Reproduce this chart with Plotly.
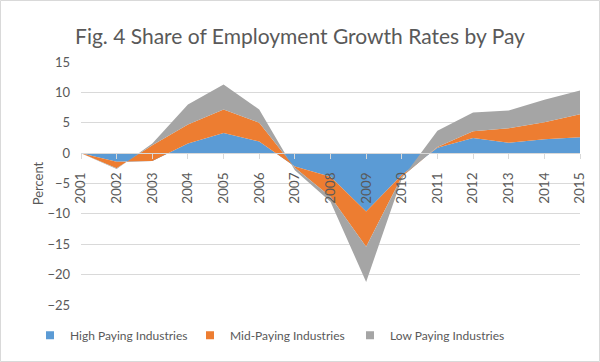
import plotly.graph_objects as go

years = [str(y) for y in range(2001, 2016)]
high_paying = [0, -1.4, -1.3, 1.6, 3.3, 1.9, -2.2, -3.9, -9.6, -3.6, 0.9, 2.5, 1.7, 2.3, 2.6]
mid_paying = [0, -1.1, 2.6, 3.1, 3.9, 3.1, -0.2, -3.3, -5.8, -0.3, 0.1, 1.1, 2.4, 2.8, 3.8]
low_paying = [0, -0.1, 0.3, 3.3, 4.1, 2.2, -0.4, -0.8, -5.8, -0.3, 2.7, 3.1, 2.9, 3.7, 3.9]
y_ticks = [-25, -20, -15, -10, -5, 0, 5, 10, 15]

series = [
    ("High Paying Industries", high_paying, "#5B9BD5"),
    ("Mid-Paying Industries", mid_paying, "#ED7D31"),
    ("Low Paying Industries", low_paying, "#A5A5A5"),
]

fig = go.Figure()
for name, vals, color in series:
    fig.add_trace(go.Scatter(
        x=years, y=vals, name=name, mode="lines", stackgroup="one",
        line=dict(width=0, color=color), fillcolor=color,
        legendgroup=name, showlegend=False, hoverinfo="skip",
    ))
# legend entries with square swatches
for name, vals, color in series:
    fig.add_trace(go.Scatter(
        x=[None], y=[None], name=name, mode="markers",
        marker=dict(symbol="square", size=8, color=color),
        legendgroup=name, showlegend=True,
    ))

font_family = "Lato, 'Open Sans', sans-serif"
ml, mr, mt, mb = 81, 20, 62, 57
W, H = 600, 362
pw, ph = W - ml - mr, H - mt - mb

fig.update_layout(
    width=W, height=H,
    margin=dict(l=ml, r=mr, t=mt, b=mb, autoexpand=False),
    paper_bgcolor="white", plot_bgcolor="white",
    font=dict(family=font_family, color="#595959", size=12),
    title=dict(text="Fig. 4 Share of Employment Growth Rates by Pay",
               x=0.5, xanchor="center", y=0.9, yanchor="middle",
               font=dict(size=21, color="#595959", family=font_family)),
    showlegend=True,
    legend=dict(orientation="h", x=(30 - ml) / pw, xanchor="left", y=-0.065, yanchor="top",
                font=dict(size=12, color="#595959"), traceorder="normal",
                itemwidth=30, entrywidthmode="pixels", entrywidth=115),
    xaxis=dict(type="category", range=[0, 14], anchor="free", position=0.625,
               automargin=False,
               showgrid=False, showline=True, linecolor="#D9D9D9", linewidth=1,
               ticks="outside", ticklen=5, tickcolor="#D9D9D9",
               tickangle=-90, tickfont=dict(size=13.5, color="#595959"),
               ticklabelstandoff=8,
               zeroline=False),
    yaxis=dict(range=[-25, 15], tickvals=y_ticks, showgrid=True, gridcolor="#D9D9D9",
               automargin=False,
               gridwidth=1, zeroline=False, showline=False, ticks="",
               tickfont=dict(size=13, color="#595959"), ticklabelstandoff=10,
               title=dict(text="Percent", font=dict(size=13, color="#595959"), standoff=0)),
    shapes=[dict(type="rect", xref="paper", yref="paper",
                 x0=-(ml - 0.5) / pw, x1=1 + (mr - 0.5) / pw,
                 y0=-(mb - 0.5) / ph, y1=1 + (mt - 0.5) / ph,
                 line=dict(color="#D9D9D9", width=1), layer="below")],
)

fig.write_html("out.html", config={"displayModeBar": False},
               post_script="document.body.style.margin='0';")
